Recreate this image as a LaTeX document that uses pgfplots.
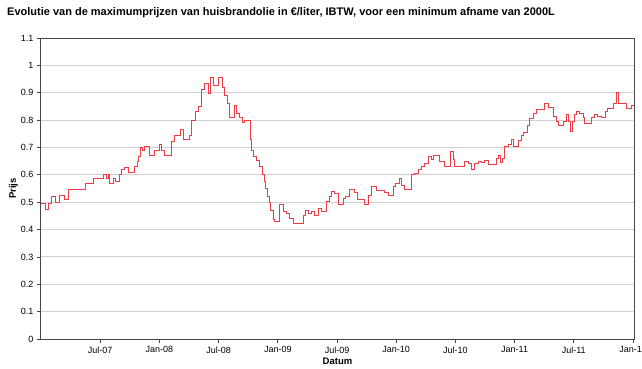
\documentclass[border=0pt]{standalone}
\usepackage{fontspec}
\setmainfont{Liberation Sans}
\usepackage{pgfplots}
\usepackage{pgfplotstable}
\pgfplotsset{compat=1.18}
\definecolor{linered}{RGB}{238,60,66}
\definecolor{gridgray}{RGB}{208,208,208}
\definecolor{framegray}{RGB}{70,70,70}
\pgfplotstableread{
m v
0.00 0.496
0.41 0.475
0.74 0.495
1.08 0.520
1.42 0.500
1.85 0.525
2.43 0.510
2.77 0.548
4.56 0.570
5.37 0.585
6.31 0.600
6.59 0.588
6.84 0.600
6.99 0.568
7.35 0.585
7.60 0.575
8.00 0.600
8.18 0.618
8.51 0.628
8.85 0.610
9.45 0.632
9.73 0.648
9.93 0.668
10.08 0.700
10.33 0.688
10.54 0.703
11.04 0.670
11.55 0.690
11.96 0.712
12.26 0.688
12.56 0.670
13.27 0.720
13.48 0.742
14.15 0.764
14.49 0.730
15.03 0.745
15.27 0.800
15.70 0.831
16.01 0.850
16.28 0.910
16.55 0.934
16.95 0.898
17.19 0.956
17.53 0.928
17.96 0.956
18.41 0.920
18.64 0.890
18.88 0.861
19.15 0.810
19.66 0.855
19.83 0.825
20.09 0.810
20.47 0.790
20.67 0.800
21.23 0.730
21.38 0.690
21.58 0.666
21.85 0.654
22.19 0.630
22.46 0.600
22.70 0.575
22.80 0.550
22.93 0.520
23.13 0.500
23.30 0.471
23.56 0.435
23.71 0.428
24.14 0.490
24.55 0.465
24.89 0.458
25.23 0.441
25.63 0.423
26.58 0.453
26.85 0.470
27.08 0.460
27.43 0.465
27.76 0.450
28.10 0.478
28.44 0.465
28.95 0.502
29.21 0.520
29.45 0.538
29.79 0.530
30.12 0.490
30.70 0.515
30.90 0.520
31.24 0.547
31.81 0.535
32.05 0.508
32.83 0.493
33.16 0.523
33.51 0.557
34.01 0.542
34.85 0.535
35.19 0.523
35.69 0.557
35.97 0.569
36.30 0.587
36.55 0.560
36.88 0.548
37.56 0.600
37.89 0.605
38.23 0.618
38.57 0.630
38.91 0.642
39.24 0.666
39.59 0.655
39.82 0.672
40.43 0.650
40.93 0.630
41.51 0.685
41.84 0.655
41.95 0.630
42.96 0.650
43.29 0.640
43.64 0.621
43.97 0.640
44.31 0.650
44.65 0.645
44.98 0.654
45.32 0.637
46.17 0.660
46.33 0.672
46.58 0.645
46.78 0.660
47.01 0.703
47.35 0.710
47.69 0.730
47.85 0.703
48.36 0.725
48.70 0.742
48.94 0.754
49.27 0.782
49.54 0.807
49.88 0.825
50.22 0.837
51.06 0.861
51.40 0.845
51.91 0.813
52.25 0.794
52.48 0.782
52.92 0.794
53.26 0.820
53.43 0.794
53.70 0.758
53.83 0.794
54.10 0.820
54.28 0.831
54.61 0.825
54.95 0.810
55.12 0.788
55.79 0.810
56.06 0.820
56.40 0.813
56.81 0.808
57.21 0.831
57.41 0.843
57.98 0.860
58.33 0.900
58.49 0.861
59.34 0.843
59.85 0.855
60.08 0.855
}\prices
\begin{document}
\begin{tikzpicture}[x=1pt,y=1pt]
\useasboundingbox (-41,-29) rectangle (601,339);
\begin{axis}[
  at={(0,0)}, anchor=south west,
  scale only axis, width=593pt, height=301pt,
  xmin=0, xmax=60.1, ymin=0, ymax=1.1,
  xtick={6,12,18,24,30,36,42,48,54,60},
  xticklabels={Jul-07,Jan-08,Jul-08,Jan-09,Jul-09,Jan-10,Jul-10,Jan-11,Jul-11,Jan-12},
  ytick={0,0.1,0.2,0.3,0.4,0.5,0.6,0.7,0.8,0.9,1,1.1},
  yticklabels={0,0.1,0.2,0.3,0.4,0.5,0.6,0.7,0.8,0.9,1,1.1},
  ymajorgrids, grid style={gridgray, line width=1pt},
  axis line style={framegray, line width=1pt},
  tick style={framegray, line width=0.8pt},
  major tick length=4pt, tick align=outside,
  xtick pos=left, ytick pos=left,
  ticklabel style={font=\fontsize{9}{10}\selectfont},
  /pgf/number format/assume math mode=true,
  xlabel={Datum}, ylabel={Prijs},
  every axis x label/.style={at={(axis description cs:0.5,0)}, anchor=center, yshift=-22pt, font=\bfseries\fontsize{9.5}{11}\selectfont},
  every axis y label/.style={at={(axis description cs:-0.0464,0.5)}, rotate=90, anchor=center, font=\bfseries\fontsize{9.5}{11}\selectfont},
]
\addplot[const plot, draw=linered, line width=1pt, mark=none] table[x=m, y=v] {\prices};
\end{axis}
\node[anchor=base west, font=\bfseries\fontsize{11}{13}\selectfont, inner sep=0pt] at (-34,323.5)
  {Evolutie van de maximumprijzen van huisbrandolie in €/liter, IBTW, voor een minimum afname van 2000L};
\end{tikzpicture}
\end{document}
